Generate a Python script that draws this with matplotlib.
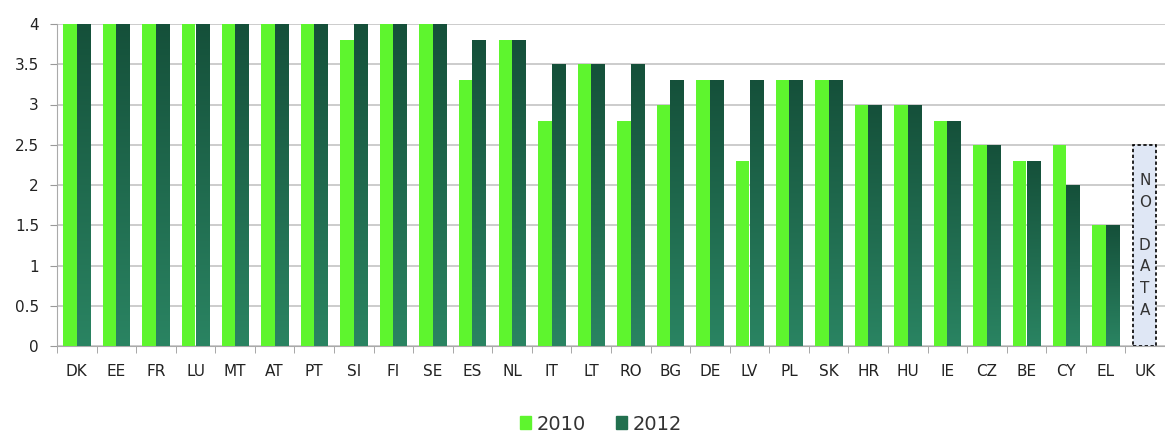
import matplotlib
matplotlib.use("Agg")
import matplotlib.pyplot as plt
import numpy as np
from matplotlib.patches import Rectangle
from matplotlib.colors import LinearSegmentedColormap

countries = ["DK", "EE", "FR", "LU", "MT", "AT", "PT", "SI", "FI", "SE", "ES", "NL", "IT", "LT",
             "RO", "BG", "DE", "LV", "PL", "SK", "HR", "HU", "IE", "CZ", "BE", "CY", "EL", "UK"]
v2010 = [4, 4, 4, 4, 4, 4, 4, 3.8, 4, 4, 3.3, 3.8, 2.8, 3.5, 2.8, 3.0, 3.3, 2.3, 3.3, 3.3,
         3.0, 3.0, 2.8, 2.5, 2.3, 2.5, 1.5, np.nan]
v2012 = [4, 4, 4, 4, 4, 4, 4, 4, 4, 4, 3.8, 3.8, 3.5, 3.5, 3.5, 3.3, 3.3, 3.3, 3.3, 3.3,
         3.0, 3.0, 2.8, 2.5, 2.3, 2.0, 1.5, np.nan]
series_labels = ["2010", "2012"]
no_data_text = "N\nO\n\nD\nA\nT\nA"

c2010 = "#5ef52e"
c2012_top = "#15503a"
c2012_bot = "#2a8462"
c2012_leg = "#22704f"

fig = plt.figure(figsize=(11.65, 4.33), dpi=100)
ax = fig.add_axes([57 / 1165, 1 - 346 / 433, 1 - 57 / 1165, (346 - 24) / 433])

x = np.arange(len(countries))
w = 0.34
b1 = ax.bar(x - w / 2, v2010, w, color=c2010, zorder=3, label=series_labels[0])
b2 = ax.bar(x + w / 2, v2012, w, color=c2012_leg, zorder=3, label=series_labels[1])

cmap = LinearSegmentedColormap.from_list("g", [c2012_bot, c2012_top])
grad = np.linspace(0, 1, 256).reshape(-1, 1)
for p in b2.patches:
    h = p.get_height()
    if not np.isfinite(h) or h <= 0:
        continue
    x0, wd = p.get_x(), p.get_width()
    im = ax.imshow(grad, extent=(x0, x0 + wd, 0, h), origin="lower",
                   cmap=cmap, vmin=0, vmax=1, aspect="auto", zorder=3.5, interpolation="bilinear")
    im.set_clip_path(p)

# NO DATA box for UK
uk = len(countries) - 1
ax.add_patch(Rectangle((uk - 0.3, 0), 0.58, 2.5, facecolor="#dfe7f5", edgecolor="black",
                       linestyle=(0, (2, 1.5)), linewidth=1.2, zorder=4))
ax.text(uk - 0.01, 1.25, no_data_text, ha="center", va="center", fontsize=11,
        linespacing=1.55, color="#333333", zorder=5)

ax.set_xlim(-0.5, 27.33)
ax.set_ylim(0, 4)
ax.set_aspect("auto")
ax.set_yticks(np.arange(0, 4.01, 0.5))
ax.set_yticklabels(["0", "0.5", "1", "1.5", "2", "2.5", "3", "3.5", "4"])
ax.set_xticks(x)
ax.set_xticklabels(countries)
ax.set_xticks(np.arange(-0.5, len(countries), 1), minor=True)
ax.tick_params(axis="x", which="major", length=0, pad=13, labelsize=11, colors="#222222")
ax.tick_params(axis="x", which="minor", length=5, color="#999999")
ax.tick_params(axis="y", length=5, color="#999999", labelsize=11, labelcolor="#222222", pad=8)
ax.grid(axis="y", color="#c4c4c4", linewidth=1.2, zorder=0)
for s in ["top", "right"]:
    ax.spines[s].set_visible(False)
ax.spines["left"].set_color("#aaaaaa")
ax.spines["bottom"].set_color("#aaaaaa")

handles = [Rectangle((0, 0), 1, 1, color=c2010), Rectangle((0, 0), 1, 1, color=c2012_leg)]
fig.legend(handles, series_labels, loc="center", bbox_to_anchor=(601 / 1165, 1 - 424 / 433),
           ncol=2, frameon=False, fontsize=14, handlelength=0.6, handleheight=0.6,
           handletextpad=0.3, columnspacing=1.5, labelcolor="#333333")

fig.savefig("out.png", dpi=100)
